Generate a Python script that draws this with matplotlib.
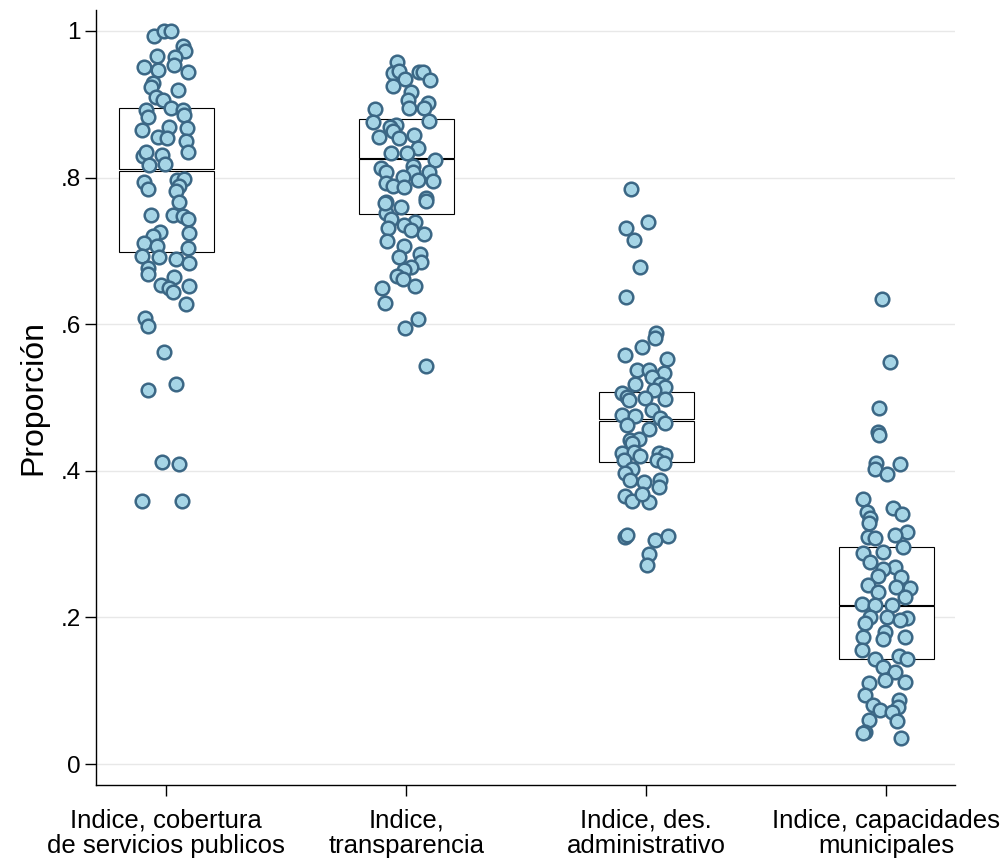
import matplotlib.pyplot as plt
from matplotlib.patches import Rectangle

plt.rcParams["font.family"] = ["Liberation Sans", "DejaVu Sans"]

labels = ["Indice, cobertura\nde servicios publicos", "Indice,\ntransparencia",
          "Indice, des.\nadministrativo", "Indice, capacidades\nmunicipales"]

# quartiles per index (q1, median, q3)
q1 = [0.698, 0.750, 0.412, 0.144]
med = [0.810, 0.826, 0.469, 0.216]
q3 = [0.895, 0.880, 0.507, 0.296]

cobertura = [0.993, 1.0, 1.0, 0.980, 0.972, 0.966, 0.965, 0.951, 0.947, 0.954,
             0.944, 0.929, 0.924, 0.920, 0.910, 0.906, 0.895, 0.892, 0.883, 0.892,
             0.885, 0.869, 0.867, 0.865, 0.855, 0.854, 0.850, 0.835, 0.829, 0.835,
             0.831, 0.819, 0.817, 0.794, 0.784, 0.797, 0.798, 0.788, 0.781, 0.767,
             0.749, 0.749, 0.748, 0.744, 0.726, 0.720, 0.725, 0.711, 0.706, 0.704,
             0.693, 0.691, 0.689, 0.684, 0.676, 0.669, 0.654, 0.664, 0.650, 0.644,
             0.652, 0.627, 0.609, 0.598, 0.562, 0.518, 0.510, 0.412, 0.409, 0.359,
             0.359]
cobertura_jit = [-0.050, -0.009, 0.019, 0.071, 0.079, -0.040, 0.036, -0.092, -0.036, 0.031,
                 0.090, -0.057, -0.064, 0.047, -0.043, -0.015, 0.019, -0.085, -0.078, 0.068,
                 0.075, 0.012, 0.085, -0.103, -0.036, 0.003, 0.082, 0.089, -0.099, -0.085,
                 -0.018, -0.006, -0.071, -0.094, -0.075, 0.044, 0.075, 0.054, 0.040, 0.054,
                 -0.064, 0.026, 0.068, 0.089, -0.025, -0.054, 0.093, -0.094, -0.040, 0.090,
                 -0.101, -0.032, 0.040, 0.096, -0.075, -0.075, -0.022, 0.033, 0.012, 0.026,
                 0.096, 0.082, -0.089, -0.075, -0.009, 0.040, -0.075, -0.018, 0.054, -0.101,
                 0.065]

transparencia = [0.957, 0.944, 0.942, 0.946, 0.944, 0.944, 0.933, 0.935, 0.925, 0.917,
                 0.906, 0.895, 0.902, 0.895, 0.893, 0.877, 0.876, 0.872, 0.869, 0.863,
                 0.856, 0.858, 0.854, 0.840, 0.834, 0.833, 0.824, 0.813, 0.816, 0.808,
                 0.807, 0.808, 0.801, 0.797, 0.795, 0.792, 0.788, 0.787, 0.772, 0.767,
                 0.760, 0.751, 0.744, 0.740, 0.735, 0.731, 0.723, 0.765, 0.768, 0.729,
                 0.713, 0.706, 0.691, 0.696, 0.685, 0.678, 0.674, 0.666, 0.661, 0.652,
                 0.650, 0.629, 0.607, 0.595, 0.543]
transparencia_jit = [-0.038, -0.035, -0.056, -0.029, 0.052, 0.071, 0.099, -0.004, -0.054, 0.020,
                     0.006, 0.010, 0.090, 0.075, -0.129, 0.096, -0.140, -0.043, -0.066, -0.056,
                     -0.112, 0.030, -0.029, 0.050, -0.063, 0.003, 0.121, -0.105, 0.027, -0.084,
                     0.027, 0.096, -0.015, 0.048, 0.110, -0.084, -0.056, -0.008, 0.083, -0.084,
                     -0.022, -0.084, -0.063, 0.038, -0.008, -0.077, 0.075, -0.087, 0.083, 0.020,
                     -0.081, -0.008, -0.029, 0.055, 0.062, 0.020, -0.008, -0.040, -0.012, 0.037,
                     -0.101, -0.087, 0.050, -0.004, 0.080]

administrativo = [0.784, 0.740, 0.731, 0.715, 0.678, 0.637, 0.588, 0.581, 0.569, 0.558,
                  0.553, 0.538, 0.538, 0.533, 0.528, 0.519, 0.519, 0.514, 0.510, 0.506,
                  0.501, 0.499, 0.498, 0.497, 0.483, 0.476, 0.475, 0.472, 0.465, 0.462,
                  0.457, 0.442, 0.444, 0.438, 0.424, 0.426, 0.420, 0.424, 0.422, 0.415,
                  0.415, 0.410, 0.403, 0.397, 0.387, 0.385, 0.387, 0.378, 0.365, 0.359,
                  0.358, 0.369, 0.310, 0.312, 0.306, 0.311, 0.286, 0.271]
administrativo_jit = [-0.063, 0.007, -0.085, -0.053, -0.026, -0.085, 0.042, 0.038, -0.018, -0.088,
                      0.086, -0.039, 0.010, 0.072, 0.024, -0.046, 0.058, 0.079, 0.030, -0.101,
                      -0.080, -0.004, 0.079, -0.074, 0.024, -0.101, -0.046, 0.058, 0.076, -0.080,
                      0.010, -0.067, -0.032, -0.060, -0.101, -0.053, -0.025, 0.051, 0.076, -0.095,
                      0.045, 0.072, -0.060, -0.088, 0.058, -0.011, -0.067, 0.051, -0.088, -0.060,
                      0.012, -0.018, -0.090, -0.080, 0.037, 0.090, 0.012, 0.003]

capacidades = [0.635, 0.549, 0.486, 0.453, 0.449, 0.410, 0.403, 0.409, 0.395, 0.362,
               0.349, 0.344, 0.341, 0.335, 0.329, 0.317, 0.313, 0.310, 0.308, 0.296,
               0.288, 0.289, 0.276, 0.269, 0.266, 0.256, 0.255, 0.244, 0.241, 0.240,
               0.235, 0.228, 0.219, 0.217, 0.217, 0.201, 0.201, 0.199, 0.196, 0.192,
               0.180, 0.174, 0.173, 0.171, 0.156, 0.144, 0.147, 0.143, 0.133, 0.126,
               0.115, 0.112, 0.110, 0.094, 0.088, 0.080, 0.074, 0.078, 0.071, 0.060,
               0.059, 0.044, 0.043, 0.036]
capacidades_jit = [-0.017, 0.015, -0.031, -0.034, -0.031, -0.044, -0.047, 0.057, 0.004, -0.096,
                   0.029, -0.082, 0.066, -0.068, -0.073, 0.085, 0.036, -0.075, -0.047, 0.071,
                   -0.096, -0.013, -0.068, 0.036, -0.013, -0.034, 0.061, -0.075, 0.039, 0.099,
                   -0.034, 0.078, -0.103, -0.047, 0.025, -0.068, 0.001, 0.085, 0.057, -0.089,
                   -0.006, -0.096, 0.078, -0.013, -0.103, -0.047, 0.053, 0.085, -0.013, 0.036,
                   -0.006, 0.078, -0.072, -0.089, 0.053, -0.054, -0.026, 0.050, 0.022, -0.072,
                   0.043, -0.089, -0.096, 0.061]

values = [cobertura, transparencia, administrativo, capacidades]
jitter = [cobertura_jit, transparencia_jit, administrativo_jit, capacidades_jit]

fig = plt.figure(figsize=(10.07, 8.59), dpi=100)
ax = fig.add_axes([0.0953, 0.0861, 0.8531, 0.9023])

box_w = 0.396
gap = 0.001
for i in range(4):
    pos = i + 1
    # two stacked boxes, split at the median
    ax.add_patch(Rectangle((pos - box_w / 2, med[i] + gap), box_w, q3[i] - med[i] - gap,
                           facecolor="white", edgecolor="black", lw=0.8, zorder=2))
    ax.add_patch(Rectangle((pos - box_w / 2, q1[i]), box_w, med[i] - q1[i] - gap,
                           facecolor="white", edgecolor="black", lw=0.8, zorder=2))
    xs = [pos + j for j in jitter[i]]
    ax.plot(xs, values[i], "o", ls="none", ms=9.8, mew=1.8,
            mfc="#a6d5e6", mec="#3b6785", zorder=3)

ax.set_xlim(0.707, 4.286)
ax.set_ylim(-0.0286, 1.0286)
ax.set_yticks([0, 0.2, 0.4, 0.6, 0.8, 1])
ax.set_yticklabels(["0", ".2", ".4", ".6", ".8", "1"])
ax.set_xticks([1, 2, 3, 4])
ax.set_xticklabels(labels, linespacing=1.05)
ax.yaxis.grid(True, color="#e8e8e8", lw=1.0, zorder=0)
ax.set_axisbelow(True)

for side in ["top", "right"]:
    ax.spines[side].set_visible(False)
for side in ["left", "bottom"]:
    ax.spines[side].set_linewidth(1.0)

ax.tick_params(axis="both", length=8, width=1.0, labelsize=17.5)
ax.tick_params(axis="x", labelsize=18.5, pad=9)
ax.tick_params(axis="y", pad=3)
ax.set_ylabel("Proporción", fontsize=23, labelpad=9)

fig.savefig("out.png", dpi=100)
